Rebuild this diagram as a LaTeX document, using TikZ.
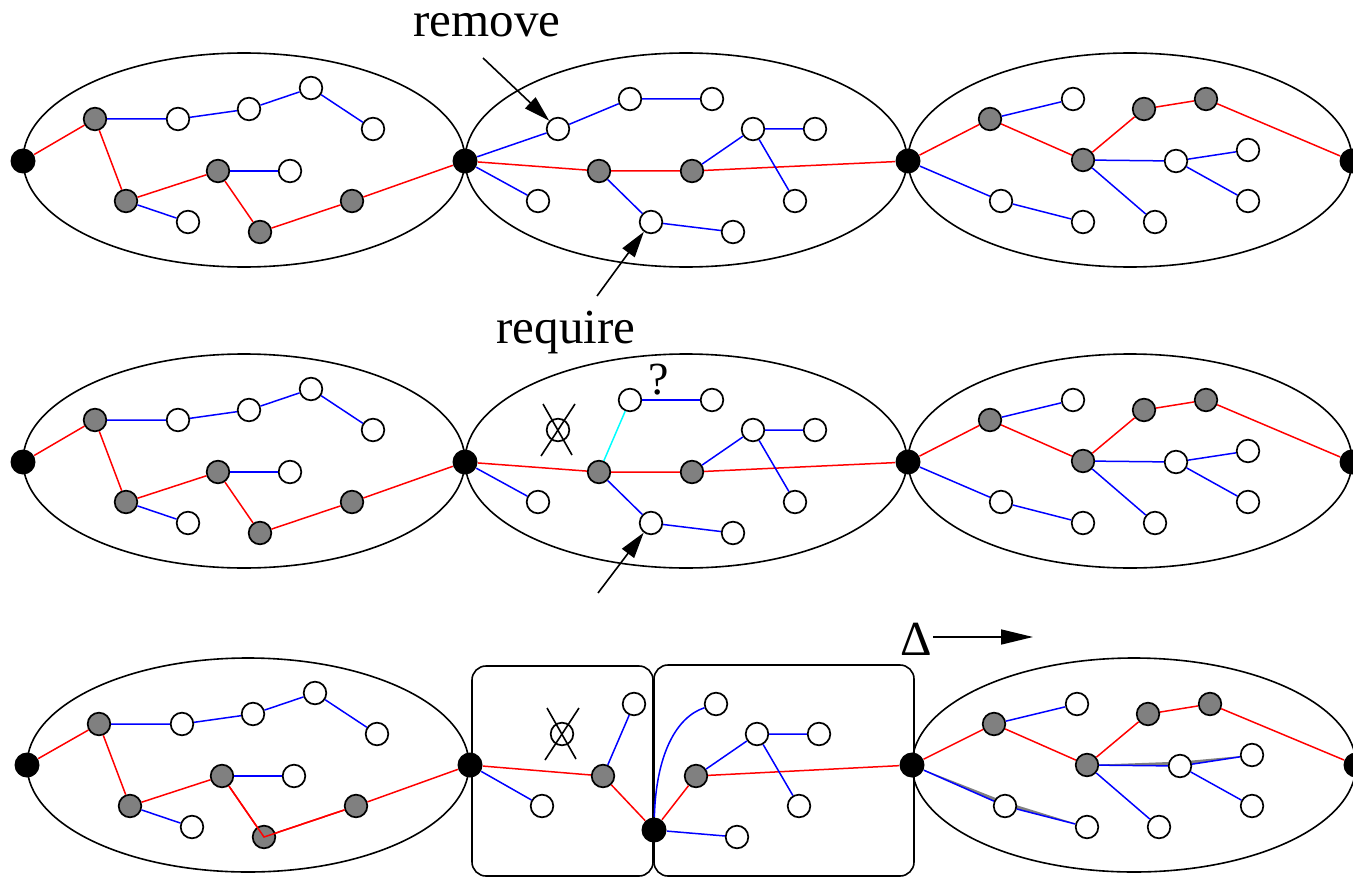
\documentclass[tikz,border=0pt]{standalone}
\usepackage{fontspec}
\setmainfont{Liberation Serif}
\usetikzlibrary{arrows.meta}
\pgfdeclarelayer{back}
\pgfsetlayers{back,main}
\definecolor{aqua}{RGB}{0,255,255}

\tikzset{
  vtx/.style={circle,draw=black,line width=0.85pt,minimum size=11.3pt,inner sep=0pt},
  wnode/.style={vtx,fill=white},
  gnode/.style={vtx,fill=gray},
  bnode/.style={circle,fill=black,minimum size=12.5pt,inner sep=0pt},
  cell/.style={line width=0.8pt},
  re/.style={red,line width=0.75pt},
  be/.style={blue,line width=0.75pt},
  ce/.style={aqua,line width=0.75pt},
  ptr/.style={line width=0.8pt,-{Triangle[length=13pt,width=7.5pt]}},
  shiftptr/.style={line width=0.8pt,-{Triangle[length=16pt,width=7.5pt]}},
  cross/.style={line width=0.8pt},
  lbl/.style={font=\fontsize{24.5}{29}\selectfont,inner sep=0pt,anchor=base},
}

% left component: ellipse and its inner vertices
\newcommand\leftgraph[1]{%
  \draw[cell] (244,160) ellipse [x radius=110.5pt, y radius=53.5pt];
  \node[gnode] (#1g1) at (95,119) {};
  \node[wnode] (#1w1) at (178,119) {};
  \node[wnode] (#1w2) at (249,109) {};
  \node[wnode] (#1w3) at (311,88) {};
  \node[wnode] (#1w4) at (373,129) {};
  \node[gnode] (#1g2) at (126,201) {};
  \node[wnode] (#1w5) at (188,222) {};
  \node[gnode] (#1g3) at (218,171) {};
  \node[wnode] (#1w6) at (290,171) {};
  \node[gnode] (#1g4) at (260,232) {};
  \node[gnode] (#1g5) at (352,201) {};
}
\newcommand\leftedges[1]{%
  \draw[re] (#1b1) -- (#1g1) -- (#1g2) -- (#1g3) -- (#1g4) -- (#1g5) -- (#1b2);
  \draw[be] (#1g1) -- (#1w1) -- (#1w2) -- (#1w3) -- (#1w4);
  \draw[be] (#1g2) -- (#1w5);
  \draw[be] (#1g3) -- (#1w6);
}

% right component: ellipse and its inner vertices
\newcommand\rightgraph[1]{%
  \draw[cell] (1130,160) ellipse [x radius=111pt, y radius=53.5pt];
  \node[gnode] (#1gc) at (990,119) {};
  \node[wnode] (#1wj) at (1073,99) {};
  \node[gnode] (#1gd) at (1083,160) {};
  \node[gnode] (#1ge) at (1144,109) {};
  \node[gnode] (#1gf) at (1206,99) {};
  \node[wnode] (#1wk) at (1176,161) {};
  \node[wnode] (#1wl) at (1248,150) {};
  \node[wnode] (#1wm) at (1248,201) {};
  \node[wnode] (#1wn) at (1155,222) {};
  \node[wnode] (#1wo) at (1001,201) {};
  \node[wnode] (#1wp) at (1083,222) {};
}
\newcommand\rightedges[1]{%
  \draw[re] (#1b3) -- (#1gc) -- (#1gd) -- (#1ge) -- (#1gf) -- (#1b4);
  \draw[be] (#1gc) -- (#1wj);
  \draw[be] (#1gd) -- (#1wk) -- (#1wl);
  \draw[be] (#1wk) -- (#1wm);
  \draw[be] (#1gd) -- (#1wn);
  \draw[be] (#1b3) -- (#1wo) -- (#1wp);
}

% the four cut vertices of one row
\newcommand\cutvertices[1]{%
  \node[bnode] (#1b1) at (23,161) {};
  \node[bnode] (#1b2) at (465,161) {};
  \node[bnode] (#1b3) at (908,161) {};
  \node[bnode] (#1b4) at (1352,161) {};
}

% struck-out vertex
\newcommand\crossout[1]{%
  \draw[cross] ([shift={(-15,-26)}]#1.center) -- ([shift={(14,25)}]#1.center);
  \draw[cross] ([shift={(17,-26)}]#1.center) -- ([shift={(-17,26)}]#1.center);
}

\begin{document}
\begin{tikzpicture}[x=0.5pt,y=-0.5pt]
\useasboundingbox (0,0) rectangle (1353,877);

% ---------------- first row ----------------
\begin{scope}
  \leftgraph{A}
  \draw[cell] (686,160) ellipse [x radius=110.5pt, y radius=53.5pt];
  \node[wnode] (Awa) at (558,129) {};
  \node[wnode] (Awb) at (630,99) {};
  \node[wnode] (Awc) at (712,99) {};
  \node[gnode] (Aga) at (599,171) {};
  \node[gnode] (Agb) at (692,171) {};
  \node[wnode] (Awd) at (753,129) {};
  \node[wnode] (Awe) at (815,129) {};
  \node[wnode] (Awf) at (795,201) {};
  \node[wnode] (Awg) at (538,201) {};
  \node[wnode] (Awh) at (651,222) {};
  \node[wnode] (Awi) at (733,232) {};
  \rightgraph{A}
  \cutvertices{A}
  \leftedges{A}
  \draw[re] (Ab2) -- (Aga) -- (Agb) -- (Ab3);
  \draw[be] (Ab2) -- (Awa) -- (Awb) -- (Awc);
  \draw[be] (Agb) -- (Awd) -- (Awe);
  \draw[be] (Awd) -- (Awf);
  \draw[be] (Ab2) -- (Awg);
  \draw[be] (Aga) -- (Awh) -- (Awi);
  \rightedges{A}

  \node[lbl] (remlbl) at (487,37) {remove};
  \coordinate (remtail) at (483,58);
  \draw[ptr] (remtail) -- (Awa);
  \node[lbl] (reqlbl) at (566,343) {require};
  \coordinate (reqtail) at (597,296);
  \draw[ptr] (reqtail) -- (Awh);
\end{scope}

% ---------------- second row ----------------
\begin{scope}[shift={(0,301)}]
  \leftgraph{B}
  \draw[cell] (686,160) ellipse [x radius=110.5pt, y radius=53.5pt];
  \node[wnode] (Bxa) at (558,129) {};
  \crossout{Bxa}
  \node[wnode] (Bwb) at (630,99) {};
  \node[wnode] (Bwc) at (712,99) {};
  \node[gnode] (Bga) at (599,171) {};
  \node[gnode] (Bgb) at (692,171) {};
  \node[wnode] (Bwd) at (753,129) {};
  \node[wnode] (Bwe) at (815,129) {};
  \node[wnode] (Bwf) at (795,201) {};
  \node[wnode] (Bwg) at (538,201) {};
  \node[wnode] (Bwh) at (651,222) {};
  \node[wnode] (Bwi) at (733,232) {};
  \rightgraph{B}
  \cutvertices{B}
  \leftedges{B}
  \draw[re] (Bb2) -- (Bga) -- (Bgb) -- (Bb3);
  \draw[ce] (Bga) -- (Bwb);
  \draw[be] (Bwb) -- (Bwc);
  \draw[be] (Bgb) -- (Bwd) -- (Bwe);
  \draw[be] (Bwd) -- (Bwf);
  \draw[be] (Bb2) -- (Bwg);
  \draw[be] (Bga) -- (Bwh) -- (Bwi);
  \rightedges{B}

  \node[font=\fontsize{23}{27}\selectfont,inner sep=0pt] (qlbl) at (659,79) {?};
  \coordinate (req2tail) at (598,292);
  \draw[ptr] (req2tail) -- (Bwh);
\end{scope}

% ---------------- third row ----------------
\draw[cell,rounded corners=7pt] (472,666) rectangle (653,876);
\draw[cell,rounded corners=7pt] (654,665) rectangle (914,876);

\begin{scope}[shift={(4,605)}]
  \leftgraph{C}
  \node[wnode] (Cxa) at (558,129) {};
  \crossout{Cxa}
  \node[wnode] (Cwb) at (630,99) {};
  \node[wnode] (Cwc) at (712,99) {};
  \node[gnode] (Cga) at (599,171) {};
  \node[gnode] (Cgb) at (692,171) {};
  \node[wnode] (Cwd) at (753,129) {};
  \node[wnode] (Cwe) at (815,129) {};
  \node[wnode] (Cwf) at (795,201) {};
  \node[wnode] (Cwg) at (538,201) {};
  \node[bnode] (Cbm) at (650,225) {};
  \node[wnode] (Cwi) at (733,232) {};
  \rightgraph{C}
  \node[bnode] (Cb1) at (23,160) {};
  \node[bnode] (Cb2) at (466,160) {};
  \node[bnode] (Cb3) at (908,160) {};
  \node[bnode] (Cb4) at (1352,160) {};
  \leftedges{C}
  \draw[re] (Cg3) -- (Cg4.center) -- (Cg5);
  \draw[re] (Cb2) -- (Cga) -- (Cbm) -- (Cgb) -- (Cb3);
  \draw[be] (Cb2) -- (Cwg);
  \draw[be] (Cga) -- (Cwb);
  \draw[be] (Cbm) .. controls (652,150) and (672,112) .. (Cwc);
  \draw[be] (Cbm) -- (Cwi);
  \draw[be] (Cgb) -- (Cwd) -- (Cwe);
  \draw[be] (Cwd) -- (Cwf);
  \rightedges{C}

  % displaced edges shown behind the current ones
  \begin{pgfonlayer}{back}
    \fill[gray] (Cb3.center) -- ([yshift=2.2pt]Cwo.center) -- (Cwp.center) -- (Cwo.center) -- cycle;
    \fill[gray] (Cgd.center) -- ([yshift=2.2pt]Cwk.center) -- (Cwl.center) -- (Cwk.center) -- cycle;
  \end{pgfonlayer}
\end{scope}

\node[lbl] (dlbl) at (916,655) {Δ};
\coordinate (dtail) at (933,637);
\coordinate (dhead) at (1033,637);
\draw[shiftptr] (dtail) -- (dhead);

\end{tikzpicture}
\end{document}
